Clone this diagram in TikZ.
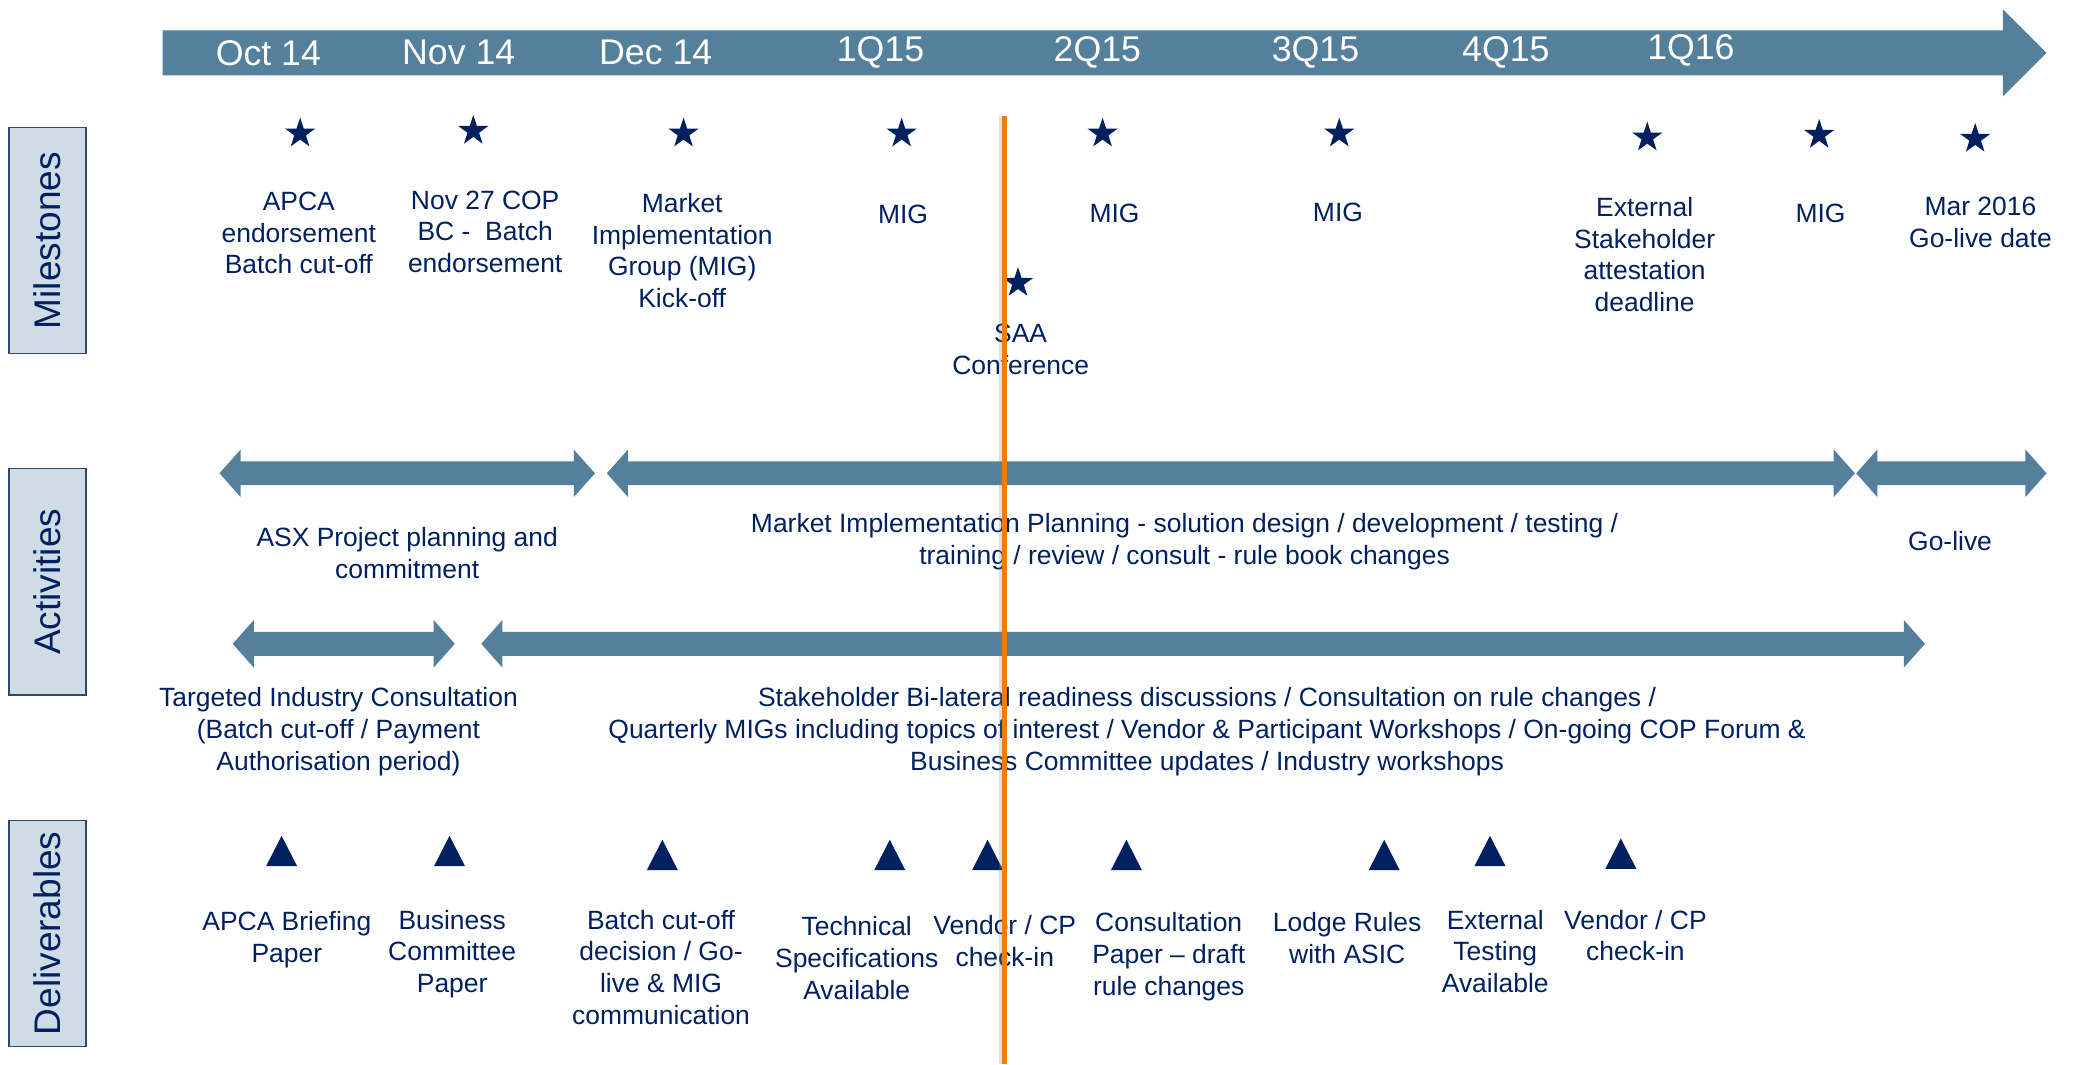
\documentclass[tikz,border=0pt]{standalone}
\usepackage{fontspec}
\setmainfont{Liberation Sans}
\usetikzlibrary{shapes.geometric}
\definecolor{navy}{HTML}{002060}
\definecolor{steel}{HTML}{54809C}
\definecolor{boxfill}{HTML}{CFDCE6}
\definecolor{boxline}{HTML}{2E4A6B}
\definecolor{nowline}{HTML}{E8800F}
\tikzstyle{periodtext} = [text=white, inner sep=0pt, font=\fontsize{27}{32}\selectfont]
\tikzstyle{sectionbox} = [rectangle, draw=boxline, fill=boxfill, line width=1.2pt, rotate=90, minimum width=171pt, minimum height=58pt, text=navy, font=\fontsize{28}{34}\selectfont]
\tikzstyle{note} = [align=center, anchor=north, inner sep=0pt, text=navy, font=\fontsize{20}{24}\selectfont]
\tikzstyle{mstar} = [star, star points=5, star point ratio=2.6, fill=navy, inner sep=0pt, minimum size=24pt]
\tikzstyle{deliv} = [isosceles triangle, isosceles triangle stretches, shape border rotate=90, fill=navy, inner sep=0pt, minimum width=23.5pt, minimum height=23pt]
\newcommand{\spanarrow}[3]{\fill[steel] (#1,#3) -- (#1+16,#3-18) -- (#1+16,#3-9) -- (#2-16,#3-9) -- (#2-16,#3-18) -- (#2,#3) -- (#2-16,#3+18) -- (#2-16,#3+9) -- (#1+16,#3+9) -- (#1+16,#3+18) -- cycle;}

\begin{document}
\begin{tikzpicture}[x=1pt, y=-1pt]
            \useasboundingbox (0,0) rectangle (1568,805);
            \fill[steel] (123,23) -- (1515,23) -- (1515,7) -- (1548,40) -- (1515,73) -- (1515,57) -- (123,57) -- cycle;
            \node (t1) [periodtext] at (203,40) {Oct 14};
            \node (t2) [periodtext] at (347,40) {Nov 14};
            \node (t3) [periodtext] at (496,40) {Dec 14};
            \node (t4) [periodtext] at (666,40) {1Q15};
            \node (t5) [periodtext] at (830,40) {2Q15};
            \node (t6) [periodtext] at (995,40) {3Q15};
            \node (t7) [periodtext] at (1139,40) {4Q15};
            \node (t8) [periodtext] at (1279,38) {1Q16};

            \node (milestones) [sectionbox] at (36,182) {Milestones};
            \node (activities) [sectionbox] at (36,440) {Activities};
            \node (deliverables) [sectionbox] at (36,706) {Deliverables};

            \node (s1) [mstar] at (227,101) {};
            \node (s2) [mstar] at (358,99) {};
            \node (s3) [mstar] at (517,101) {};
            \node (s4) [mstar] at (682,101) {};
            \node (s5) [mstar] at (834,101) {};
            \node (s6) [mstar] at (1013,101) {};
            \node (s7) [mstar] at (1246,104) {};
            \node (s8) [mstar] at (1376,102) {};
            \node (s9) [mstar] at (1494,105) {};
            \node (s10) [mstar] at (770,214) {};

            \node (m1) [note] at (226,145) {APCA\\endorsement\\Batch cut-off};
            \node (m2) [note] at (367,144) {Nov 27 COP\\BC -\ \ Batch\\endorsement};
            \node (m3) [note] at (516,146) {Market\\Implementation\\Group (MIG)\\Kick-off};
            \node (m4) [note] at (683,155) {MIG};
            \node (m5) [note] at (843,154) {MIG};
            \node (m6) [note] at (1012,153) {MIG};
            \node (m7) [note] at (1244,149) {External\\Stakeholder\\attestation\\deadline};
            \node (m8) [note] at (1377,154) {MIG};
            \node (m9) [note] at (1498,149) {Mar 2016\\Go-live date};
            \node (m10) [note] at (772,245) {SAA\\Conference};

            \spanarrow{166}{450}{358}
            \spanarrow{459}{1403}{358}
            \spanarrow{1404}{1548}{358}
            \spanarrow{176}{344}{487}
            \spanarrow{364}{1456}{487}

            \node (a1) [note] at (308,399) {ASX Project planning and\\commitment};
            \node (a2) [note] at (896,388) {Market Implementation Planning - solution design / development / testing /\\training / review / consult - rule book changes};
            \node (a3) [note] at (1475,402) {Go-live};
            \node (a4) [note] at (256,520) {Targeted Industry Consultation\\(Batch cut-off / Payment\\Authorisation period)};
            \node (a5) [note] at (913,520) {Stakeholder Bi-lateral readiness discussions / Consultation on rule changes /\\Quarterly MIGs including topics of interest / Vendor \& Participant Workshops / On-going COP Forum \&\\Business Committee updates / Industry workshops};

            \node (v1) [deliv] at (213,648) {};
            \node (v2) [deliv] at (340,648) {};
            \node (v3) [deliv] at (501,651) {};
            \node (v4) [deliv] at (673,651) {};
            \node (v5) [deliv] at (747,651) {};
            \node (v6) [deliv] at (852,651) {};
            \node (v7) [deliv] at (1047,651) {};
            \node (v8) [deliv] at (1127,648) {};
            \node (v9) [deliv] at (1226,650) {};

            \node (d1) [note] at (217,689) {APCA Briefing\\Paper};
            \node (d2) [note] at (342,688) {Business\\Committee\\Paper};
            \node (d3) [note] at (500,688) {Batch cut-off\\decision / Go-\\live \& MIG\\communication};
            \node (d4) [note] at (648,693) {Technical\\Specifications\\Available};
            \node (d5) [note] at (760,692) {Vendor / CP\\check-in};
            \node (d6) [note] at (884,690) {Consultation\\Paper – draft\\rule changes};
            \node (d7) [note] at (1019,690) {Lodge Rules\\with ASIC};
            \node (d8) [note] at (1131,688) {External\\Testing\\Available};
            \node (d9) [note] at (1237,688) {Vendor / CP\\check-in};

            \draw[gray, line width=3pt, opacity=0.25] (757.5,88) -- (757.5,805);
            \draw[nowline, line width=4pt] (760,88) -- (760,805);
        \end{tikzpicture}
\end{document}
